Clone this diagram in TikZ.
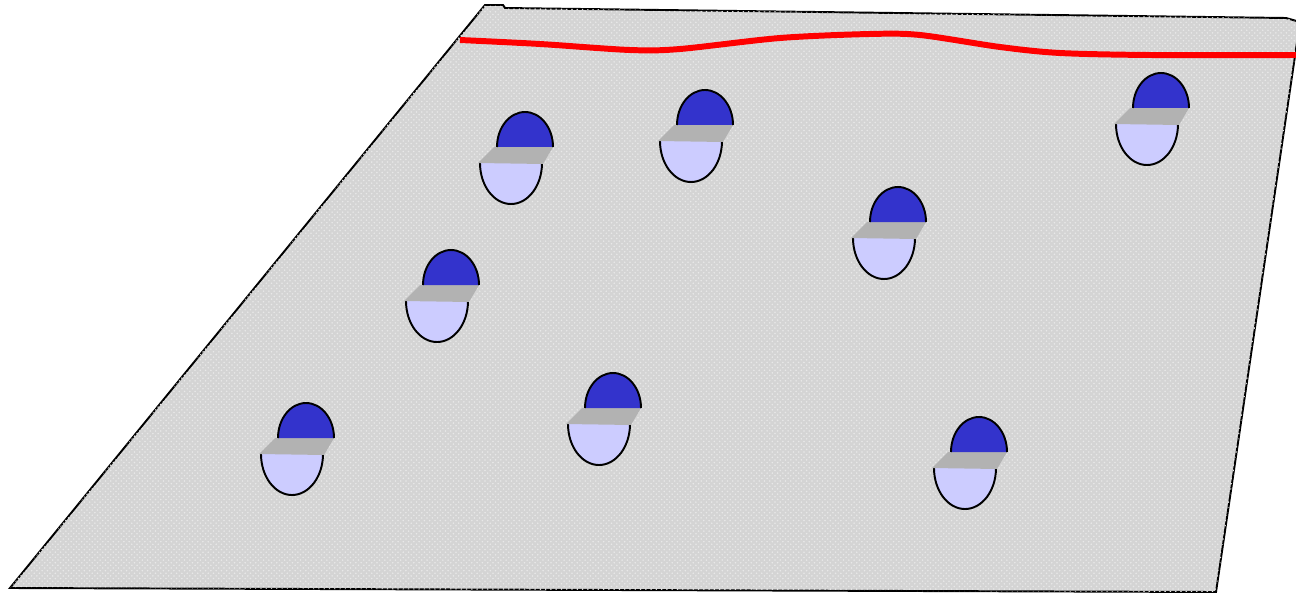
\documentclass[tikz,border=0pt]{standalone}
\usetikzlibrary{patterns}

\definecolor{ground}{RGB}{212,212,212}
\definecolor{grain}{RGB}{232,232,232}
\definecolor{capblue}{RGB}{51,51,204}
\definecolor{bodylav}{RGB}{204,204,255}
\definecolor{bandgray}{RGB}{178,178,178}
\definecolor{pathred}{RGB}{255,0,0}

\begin{document}
\begin{tikzpicture}[x=0.2mm, y=-0.2mm,
        outline/.style={draw=black, line width=1.1pt},
        walker/.pic={
            \fill[bodylav] (-17,16) arc[start angle=180, end angle=0, x radius=31, y radius=41] -- cycle;
            \draw[outline] (-17,16) arc[start angle=180, end angle=0, x radius=31, y radius=41];
            \fill[bandgray] (-3,0) -- (56,0) -- (46,17) -- (-19,16) -- cycle;
            \fill[capblue] (0,0) arc[start angle=180, end angle=360, x radius=28, y radius=35] -- cycle;
            \draw[outline] (0,0) arc[start angle=180, end angle=360, x radius=28, y radius=35];
        }]
    \useasboundingbox (0,0) rectangle (1296,597);

    \filldraw[fill=ground, outline] (10,588) -- (485,5) -- (503,5) -- (505,8) -- (1286,18) -- (1300,22) -- (1216,592) -- cycle;
    \fill[pattern=crosshatch dots, pattern color=grain] (10,588) -- (485,5) -- (503,5) -- (505,8) -- (1286,18) -- (1300,22) -- (1216,592) -- cycle;

    \draw[pathred, line width=3.4pt] plot[smooth] coordinates {(460,40) (540,44) (630,50) (680,49) (780,38) (870,34) (920,35) (1000,47) (1060,53) (1150,55) (1296,55)};

    \path (497,147) pic {walker};
    \path (677,125) pic {walker};
    \path (1133,108) pic {walker};
    \path (870,222) pic {walker};
    \path (423,285) pic {walker};
    \path (585,408) pic {walker};
    \path (278,438) pic {walker};
    \path (951,452) pic {walker};
\end{tikzpicture}
\end{document}
